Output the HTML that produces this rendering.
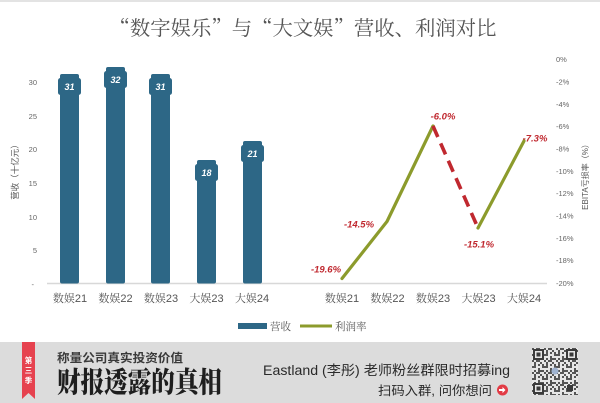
<!DOCTYPE html>
<html>
<head>
<meta charset="utf-8">
<style>
  html,body{margin:0;padding:0;background:#fff;}
  body{width:600px;height:403px;overflow:hidden;}
  svg{display:block;}
</style>
</head>
<body>
<svg width="600" height="403" viewBox="0 0 600 403" xmlns="http://www.w3.org/2000/svg">
  <defs>
    <pattern id="qr" x="532" y="348" width="12" height="12" patternUnits="userSpaceOnUse">
      <rect width="12" height="12" fill="#e6e6e6"/>
      <rect x="0" y="0" width="2" height="2" fill="#555"/>
      <rect x="4" y="0" width="4" height="2" fill="#555"/>
      <rect x="2" y="2" width="2" height="4" fill="#555"/>
      <rect x="8" y="2" width="2" height="2" fill="#555"/>
      <rect x="6" y="4" width="2" height="2" fill="#555"/>
      <rect x="10" y="4" width="2" height="4" fill="#555"/>
      <rect x="0" y="6" width="4" height="2" fill="#555"/>
      <rect x="6" y="8" width="2" height="4" fill="#555"/>
      <rect x="2" y="10" width="2" height="2" fill="#555"/>
      <rect x="8" y="10" width="4" height="2" fill="#555"/>
    </pattern>
  </defs>

  <!-- top faint border -->
  <rect x="0" y="0" width="600" height="2" fill="#e3e3e3"/>

  <!-- Title -->
  <text x="303" y="35" text-anchor="middle" font-family="'Noto Serif CJK SC',serif" font-size="20" fill="#555" textLength="387" lengthAdjust="spacingAndGlyphs">“数字娱乐”与“大文娱”营收、利润对比</text>

  <!-- Left axis labels -->
  <g font-family="'Liberation Sans',sans-serif" font-size="7.5" fill="#666" text-anchor="end">
    <text x="37" y="85">30</text>
    <text x="37" y="119">25</text>
    <text x="37" y="152">20</text>
    <text x="37" y="186">15</text>
    <text x="37" y="220">10</text>
    <text x="37" y="253">5</text>
    <text x="34" y="287">-</text>
  </g>
  <text transform="translate(18,170) rotate(-90)" text-anchor="middle" font-family="'Liberation Sans','Noto Sans CJK SC',sans-serif" font-size="8.5" fill="#555">营收（十亿元）</text>

  <!-- Right axis labels -->
  <g font-family="'Liberation Sans',sans-serif" font-size="7.5" fill="#666">
    <text x="556" y="62">0%</text>
    <text x="556" y="84.5">-2%</text>
    <text x="556" y="107">-4%</text>
    <text x="556" y="129">-6%</text>
    <text x="556" y="151.5">-8%</text>
    <text x="556" y="174">-10%</text>
    <text x="556" y="196">-12%</text>
    <text x="556" y="218.5">-14%</text>
    <text x="556" y="241">-16%</text>
    <text x="556" y="263">-18%</text>
    <text x="556" y="286">-20%</text>
  </g>
  <text transform="translate(588,175) rotate(-90)" text-anchor="middle" font-family="'Liberation Sans','Noto Sans CJK SC',sans-serif" font-size="8" fill="#555">EBITA亏损率（%）</text>

  <!-- baseline -->
  <line x1="47" y1="283.5" x2="547" y2="283.5" stroke="#d8d8d8" stroke-width="1.5"/>

  <!-- Bars -->
  <g fill="#2d6786">
    <rect x="60" y="74" width="19" height="209.5" rx="2"/>
    <rect x="58" y="78" width="23" height="17" rx="2.5"/>
    <rect x="106" y="67" width="19" height="216.5" rx="2"/>
    <rect x="104" y="71" width="23" height="17" rx="2.5"/>
    <rect x="151" y="74" width="19" height="209.5" rx="2"/>
    <rect x="149" y="78" width="23" height="17" rx="2.5"/>
    <rect x="197" y="160" width="19" height="123.5" rx="2"/>
    <rect x="195" y="164" width="23" height="17" rx="2.5"/>
    <rect x="243" y="141" width="19" height="142.5" rx="2"/>
    <rect x="241" y="145" width="23" height="17" rx="2.5"/>
  </g>
  <g font-family="'Liberation Sans',sans-serif" font-size="9" font-weight="bold" font-style="italic" fill="#fff" text-anchor="middle">
    <text x="69.5" y="90">31</text>
    <text x="115.5" y="83">32</text>
    <text x="160.5" y="90">31</text>
    <text x="206.5" y="176">18</text>
    <text x="252.5" y="157">21</text>
  </g>

  <!-- Category labels -->
  <g font-family="'Liberation Sans','Noto Serif CJK SC',serif" font-size="11" fill="#555" text-anchor="middle">
    <text x="70" y="302">数娱21</text>
    <text x="115.5" y="302">数娱22</text>
    <text x="161" y="302">数娱23</text>
    <text x="206.5" y="302">大娱23</text>
    <text x="252" y="302">大娱24</text>
    <text x="342" y="302">数娱21</text>
    <text x="387.5" y="302">数娱22</text>
    <text x="433" y="302">数娱23</text>
    <text x="478.5" y="302">大娱23</text>
    <text x="524" y="302">大娱24</text>
  </g>

  <!-- Line series -->
  <polyline points="342,278.5 387,221.5 433,126" fill="none" stroke="#8c9b2c" stroke-width="3.2" stroke-linejoin="round" stroke-linecap="round"/>
  <line x1="433" y1="126" x2="478" y2="228" stroke="#c0282f" stroke-width="3.6" stroke-dasharray="12 7"/>
  <line x1="478" y1="228" x2="524" y2="141" stroke="#8c9b2c" stroke-width="3.2" stroke-linecap="round"/>

  <g font-family="'Liberation Sans',sans-serif" font-size="9.5" font-weight="bold" font-style="italic" fill="#c0282f" text-anchor="middle">
    <text x="326" y="272.5">-19.6%</text>
    <text x="359" y="227.5">-14.5%</text>
    <text x="443" y="119.5">-6.0%</text>
    <text x="479" y="247.5">-15.1%</text>
    <text x="535" y="141.5">-7.3%</text>
  </g>

  <!-- Legend -->
  <rect x="238" y="323" width="29" height="6" fill="#2d6786"/>
  <text x="270" y="330" font-family="'Liberation Serif','Noto Serif CJK SC',serif" font-size="10.5" fill="#555">营收</text>
  <line x1="300" y1="326" x2="332" y2="326" stroke="#8c9b2c" stroke-width="3"/>
  <text x="335" y="330" font-family="'Liberation Serif','Noto Serif CJK SC',serif" font-size="10.5" fill="#555">利润率</text>

  <!-- Bottom banner -->
  <rect x="0" y="342" width="600" height="61" fill="#dcdcdc"/>
  <polygon points="22,342 35,342 35,399 28.5,393 22,399" fill="#e6424f"/>
  <g font-family="'Liberation Sans','Noto Sans CJK SC',sans-serif" font-size="7.5" font-weight="bold" fill="#fff" text-anchor="middle">
    <text x="28.5" y="363">第</text>
    <text x="28.5" y="373">三</text>
    <text x="28.5" y="383">季</text>
  </g>
  <text x="57" y="362" font-family="'Liberation Sans','Noto Sans CJK SC',sans-serif" font-size="12" font-weight="bold" fill="#3a3a3a" textLength="126" lengthAdjust="spacingAndGlyphs">称量公司真实投资价值</text>
  <text x="57" y="0" transform="translate(0,392) scale(1,1.18)" font-family="'Liberation Serif','Noto Serif CJK SC',serif" font-size="24" font-weight="900" fill="#1e1e1e" textLength="165" lengthAdjust="spacingAndGlyphs">财报透露的真相</text>

  <text x="263" y="375" font-family="'Liberation Sans','Noto Sans CJK SC',sans-serif" font-size="13.5" fill="#2a2a2a" textLength="247" lengthAdjust="spacingAndGlyphs">Eastland (李彤) 老师粉丝群限时招募ing</text>
  <text x="378" y="395" font-family="'Liberation Sans','Noto Sans CJK SC',sans-serif" font-size="12.5" fill="#2a2a2a" textLength="114" lengthAdjust="spacingAndGlyphs">扫码入群, 问你想问</text>
  <circle cx="502.5" cy="390" r="5.5" fill="#e23b45"/>
  <path d="M499,389 h3.5 v-2 l3,3 l-3,3 v-2 h-3.5 z" fill="#fff"/>

  <!-- QR code -->
  <rect x="532" y="348" width="46" height="47" fill="url(#qr)"/>
  <g fill="#3a3a3a">
    <rect x="533" y="349" width="11" height="11"/>
    <rect x="566" y="349" width="11" height="11"/>
    <rect x="533" y="383" width="11" height="11"/>
  </g>
  <g fill="#e6e6e6">
    <rect x="535" y="351" width="7" height="7"/>
    <rect x="568" y="351" width="7" height="7"/>
    <rect x="535" y="385" width="7" height="7"/>
  </g>
  <g fill="#3a3a3a">
    <rect x="536.5" y="352.5" width="4" height="4"/>
    <rect x="569.5" y="352.5" width="4" height="4"/>
    <rect x="536.5" y="386.5" width="4" height="4"/>
    <rect x="567" y="385" width="6" height="6"/>
  </g>
  <rect x="567.5" y="385.5" width="5" height="5" fill="none" stroke="#3a3a3a" stroke-width="1"/>
  <circle cx="555" cy="371" r="3.5" fill="#9fb3d0"/>
</svg>
</body>
</html>
